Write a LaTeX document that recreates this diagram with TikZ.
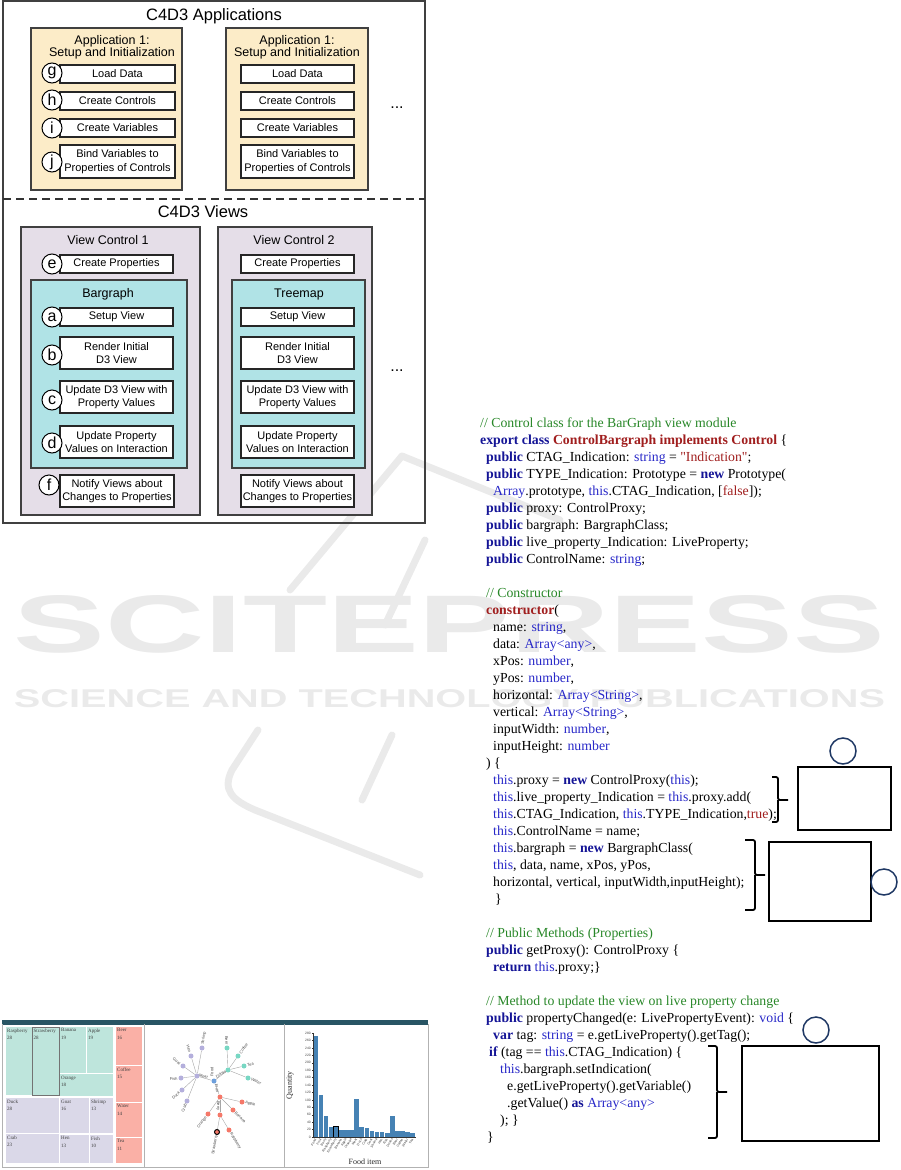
\documentclass[tikz,border=0pt]{standalone}
\usepackage{fontspec}
\setmainfont{Liberation Serif}
\newfontfamily\codef{Liberation Serif}
\newfontfamily\arialf{Liberation Sans}
\definecolor{appfill}{RGB}{252,236,200}
\definecolor{viewfill}{RGB}{229,222,232}
\definecolor{dthree}{RGB}{176,227,230}
\definecolor{cmtgreen}{RGB}{40,135,40}
\definecolor{kwblue}{RGB}{20,20,150}
\definecolor{tyblue}{RGB}{40,40,200}
\definecolor{dkred}{RGB}{160,30,30}
\definecolor{navyc}{RGB}{31,56,100}
\definecolor{tmgreen}{RGB}{190,229,220}
\definecolor{tmlav}{RGB}{218,216,232}
\definecolor{tmsalmon}{RGB}{250,176,166}
\definecolor{barblue}{RGB}{70,130,180}
\definecolor{topbar}{RGB}{40,85,100}
\definecolor{wmgrey}{RGB}{234,234,234}
\definecolor{tnblue}{RGB}{110,160,220}
\definecolor{tnlav}{RGB}{180,175,220}
\definecolor{tnmint}{RGB}{120,215,195}
\definecolor{tnsalmon}{RGB}{245,120,105}
\newcommand\CKw[1]{\textbf{\color{kwblue}#1}}
\newcommand\CTy[1]{{\color{tyblue}#1}}
\newcommand\CRd[1]{{\color{dkred}#1}}
\newcommand\CRb[1]{\textbf{\color{dkred}#1}}
\newcommand\CCm[1]{{\color{cmtgreen}#1}}
\newcommand\codeln[3]{\node[codeline] (code#1) at (#2,{427.5+17*(#1-1)}) {#3};}
\begin{document}
\begin{tikzpicture}[x=1pt,y=-1pt,
  outerbox/.style={draw=black!75, line width=1.5pt, inner sep=0},
  appbox/.style={draw=black!75, fill=appfill, line width=2pt, inner sep=0},
  viewbox/.style={draw=black!75, fill=viewfill, line width=2pt, inner sep=0},
  dbox/.style={draw=black!75, fill=dthree, line width=2pt, inner sep=0},
  stepbox/.style={draw=black!85, fill=white, line width=1.8pt, inner sep=0, align=center,
     font=\arialf\fontsize{11}{13.5}\selectfont},
  boxtitle/.style={align=center, inner sep=0, font=\arialf\fontsize{12.5}{12.5}\selectfont},
  bigtitle/.style={inner sep=0, font=\arialf\fontsize{16.5}{16.5}\selectfont},
  letter/.style={circle, draw=black, fill=white, line width=1pt, minimum size=20pt, inner sep=0,
     font=\arialf\fontsize{16}{16}\selectfont},
  dots/.style={anchor=base, inner sep=0, font=\arialf\fontsize{16}{16}\selectfont},
  codeline/.style={anchor=base west, inner sep=0, font=\codef\fontsize{13.8}{17}\selectfont},
  brace/.style={draw=black, line width=1.8pt, rounded corners=2pt},
  notebox/.style={draw=black, line width=1.3pt, inner sep=0},
  notecirc/.style={circle, draw=navyc, line width=1.5pt, minimum size=26pt, inner sep=0},
  tile/.style={anchor=north west, inner sep=0},
  tlab/.style={anchor=north west, inner sep=0, align=left, text=black!75, font=\fontsize{5}{7.5}\selectfont},
  tn/.style={circle, inner sep=0, minimum size=5pt},
  te/.style={draw=black!35, line width=0.4pt},
  tl/.style={inner sep=0.3pt, text=black!70, font=\arialf\fontsize{4}{4}\selectfont},
  wmline/.style={draw=wmgrey, line width=7pt, line cap=round, line join=round}
]
\useasboundingbox (0,0) rectangle (901,1170);

% ---------- watermark ----------
\draw[wmline] (402,456) -- (290,590);
\draw[wmline] (425,540) -- (385,625);
\draw[wmline] (258,730) -- (232,770) .. controls (222,790) and (232,800) .. (255,810) -- (420,875);
\draw[wmline] (392,735) -- (362,800);
\draw[wmline] (402,456) -- (560,520);
\node[text=wmgrey, inner sep=0] (wm1) at (449.5,624.5)
  {\resizebox{871pt}{57pt}{\arialf\bfseries SCITEPRESS}};
\node[text=wmgrey, inner sep=0] (wm2) at (449.5,699)
  {\resizebox{871pt}{18pt}{\arialf\bfseries SCIENCE AND TECHNOLOGY PUBLICATIONS}};

% ---------- C4D3 diagram ----------
\node[outerbox, minimum width=422, minimum height=522] (outer) at (214,262) {};
\coordinate (dl) at (3,199);
\coordinate (dr) at (425,199);
\draw[black!80, line width=1.8pt, dash pattern=on 8pt off 5pt] (dl) -- (dr);
\node[bigtitle] (tapps) at (214,16) {C4D3 Applications};
\node[bigtitle] (tviews) at (203,212) {C4D3 Views};

% applications
\node[appbox, minimum width=151, minimum height=162] (app1) at (106.5,109) {};
\node[appbox, minimum width=142, minimum height=162] (app2) at (297,109) {};
\node[boxtitle] (app1t) at (112,47.5) {Application 1:\\Setup and Initialization};
\node[boxtitle] (app2t) at (297,47.5) {Application 1:\\Setup and Initialization};
\node[stepbox, minimum width=115, minimum height=18] (ld1) at (117.5,74) {Load Data};
\node[stepbox, minimum width=115, minimum height=18] (cc1) at (117.5,101) {Create Controls};
\node[stepbox, minimum width=115, minimum height=18] (cv1) at (117.5,128) {Create Variables};
\node[stepbox, minimum width=115, minimum height=33] (bv1) at (117.5,161.5) {Bind Variables to\\Properties of Controls};
\node[stepbox, minimum width=113, minimum height=18] (ld2) at (297.5,74) {Load Data};
\node[stepbox, minimum width=113, minimum height=18] (cc2) at (297.5,101) {Create Controls};
\node[stepbox, minimum width=113, minimum height=18] (cv2) at (297.5,128) {Create Variables};
\node[stepbox, minimum width=113, minimum height=33] (bv2) at (297.5,161.5) {Bind Variables to\\Properties of Controls};
\node[letter] (lg) at (52,73) {g};
\node[letter] (lh) at (52,100) {h};
\node[letter] (li) at (52,128) {i};
\node[letter] (lj) at (52,162) {j};
\node[dots] (dots1) at (397,108) {...};

% views
\node[viewbox, minimum width=179, minimum height=288] (vc1) at (110.5,371) {};
\node[viewbox, minimum width=154, minimum height=288] (vc2) at (295,371) {};
\node[boxtitle] (vc1t) at (108,240) {View Control 1};
\node[boxtitle] (vc2t) at (294,240) {View Control 2};
\node[stepbox, minimum width=113, minimum height=18] (cp1) at (116.5,264) {Create Properties};
\node[stepbox, minimum width=113, minimum height=18] (cp2) at (297.5,264) {Create Properties};
\node[dbox, minimum width=156, minimum height=188] (bg) at (109,374) {};
\node[dbox, minimum width=133, minimum height=188] (tm) at (298.5,374) {};
\node[boxtitle] (bgt) at (108,294) {Bargraph};
\node[boxtitle] (tmt) at (299,294) {Treemap};
\node[stepbox, minimum width=113, minimum height=18] (sv1) at (116.5,317) {Setup View};
\node[stepbox, minimum width=113, minimum height=32] (ri1) at (116.5,353) {Render Initial\\D3 View};
\node[stepbox, minimum width=113, minimum height=32] (ud1) at (116.5,397) {Update D3 View with\\Property Values};
\node[stepbox, minimum width=113, minimum height=32] (up1) at (116.5,442) {Update Property\\Values on Interaction};
\node[stepbox, minimum width=114, minimum height=32] (nv1) at (117,491) {Notify Views about\\Changes to Properties};
\node[stepbox, minimum width=113, minimum height=18] (sv2) at (297.5,317) {Setup View};
\node[stepbox, minimum width=113, minimum height=32] (ri2) at (297.5,353) {Render Initial\\D3 View};
\node[stepbox, minimum width=113, minimum height=32] (ud2) at (297.5,397) {Update D3 View with\\Property Values};
\node[stepbox, minimum width=113, minimum height=32] (up2) at (297.5,442) {Update Property\\Values on Interaction};
\node[stepbox, minimum width=113, minimum height=32] (nv2) at (297.5,491) {Notify Views about\\Changes to Properties};
\node[letter] (le) at (52,264) {e};
\node[letter] (la) at (52,317) {a};
\node[letter] (lb) at (52,355) {b};
\node[letter] (lc) at (52,400) {c};
\node[letter] (ld) at (52,443) {d};
\node[letter] (lf) at (49,485) {f};
\node[dots] (dots2) at (397,371) {...};

% ---------- code ----------
\codeln{1}{480}{\CCm{// Control class for the BarGraph view module}}
\codeln{2}{480}{\CKw{export class} \CRb{ControlBargraph implements Control} \{}
\codeln{3}{486}{\CKw{public} CTAG\_Indication: \CTy{string} = \CRd{"Indication"};}
\codeln{4}{486}{\CKw{public} TYPE\_Indication: Prototype = \CKw{new} Prototype(}
\codeln{5}{493}{\CTy{Array}.prototype, \CTy{this}.CTAG\_Indication, [\CRd{false}]);}
\codeln{6}{486}{\CKw{public} proxy: ControlProxy;}
\codeln{7}{486}{\CKw{public} bargraph: BargraphClass;}
\codeln{8}{486}{\CKw{public} live\_property\_Indication: LiveProperty;}
\codeln{9}{486}{\CKw{public} ControlName: \CTy{string};}
\codeln{11}{486}{\CCm{// Constructor}}
\codeln{12}{486}{\CRb{constructor}(}
\codeln{13}{493}{name: \CTy{string},}
\codeln{14}{493}{data: \CTy{Array<any>},}
\codeln{15}{493}{xPos: \CTy{number},}
\codeln{16}{493}{yPos: \CTy{number},}
\codeln{17}{493}{horizontal: \CTy{Array<String>},}
\codeln{18}{493}{vertical: \CTy{Array<String>},}
\codeln{19}{493}{inputWidth: \CTy{number},}
\codeln{20}{493}{inputHeight: \CTy{number}}
\codeln{21}{486}{) \{}
\codeln{22}{493}{\CTy{this}.proxy = \CKw{new} ControlProxy(\CTy{this});}
\codeln{23}{493}{\CTy{this}.live\_property\_Indication = \CTy{this}.proxy.add(}
\codeln{24}{493}{\CTy{this}.CTAG\_Indication, \CTy{this}.TYPE\_Indication,\CRd{true});}
\codeln{25}{493}{\CTy{this}.ControlName = name;}
\codeln{26}{493}{\CTy{this}.bargraph = \CKw{new} BargraphClass(}
\codeln{27}{493}{\CTy{this}, data, name, xPos, yPos,}
\codeln{28}{493}{horizontal, vertical, inputWidth,inputHeight);}
\codeln{29}{495}{\}}
\codeln{31}{486}{\CCm{// Public Methods (Properties)}}
\codeln{32}{486}{\CKw{public} getProxy(): ControlProxy \{}
\codeln{33}{493}{\CKw{return} \CTy{this}.proxy;\}}
\codeln{35}{486}{\CCm{// Method to update the view on live property change}}
\codeln{36}{486}{\CKw{public} propertyChanged(e: LivePropertyEvent): \CTy{void} \{}
\codeln{37}{493}{\CKw{var} tag: \CTy{string} = e.getLiveProperty().getTag();}
\codeln{38}{489}{\CKw{if} (tag == \CTy{this}.CTAG\_Indication) \{}
\codeln{39}{500}{\CTy{this}.bargraph.setIndication(}
\codeln{40}{507}{e.getLiveProperty().getVariable()}
\codeln{41}{507}{.getValue() \CKw{as} \CTy{Array<any>}}
\codeln{42}{500}{); \}}
\codeln{43}{487}{\}}

% braces, boxes, circles
\coordinate (b1t) at (772,777); \coordinate (b1b) at (772,822); \coordinate (b1m) at (788,800);
\draw[brace] (b1t) -- (778,777) -- (778,800) -- (b1m);
\draw[brace] (b1b) -- (778,822) -- (778,800);
\node[notebox, minimum width=93, minimum height=63] (nb1) at (844.5,798.5) {};
\node[notecirc] (nc1) at (843,751) {};
\coordinate (b2t) at (745,840); \coordinate (b2b) at (745,910); \coordinate (b2m) at (765,875);
\draw[brace] (b2t) -- (755,840) -- (755,875) -- (b2m);
\draw[brace] (b2b) -- (755,910) -- (755,875);
\node[notebox, minimum width=102, minimum height=79] (nb2) at (820,881.5) {};
\node[notecirc] (nc2) at (884,882) {};
\coordinate (b3t) at (708,1046); \coordinate (b3b) at (708,1138); \coordinate (b3m) at (727,1092);
\draw[brace] (b3t) -- (717,1046) -- (717,1092) -- (b3m);
\draw[brace] (b3b) -- (717,1138) -- (717,1092);
\node[notebox, minimum width=137, minimum height=95] (nb3) at (810.5,1093.5) {};
\node[notecirc] (nc3) at (816,1030) {};

% ---------- screenshot ----------
\fill[topbar] (2,1020) rectangle (428,1024.5);
\draw[black!30, line width=0.6pt] (2,1024) -- (2,1167) -- (428,1167) -- (428,1024);
\draw[black!30, line width=0.6pt] (144,1024) -- (144,1167);
\draw[black!30, line width=0.6pt] (284,1024) -- (284,1167);
% treemap
\foreach \nm/\xa/\ya/\xb/\yb/\col/\val in {
  Raspberry/6/1027/31.5/1095/tmgreen/28,
  Strawberry/32.5/1027/59/1095/tmgreen/28,
  Banana/60/1027/86/1073/tmgreen/19,
  Apple/87/1027/113/1073/tmgreen/19,
  Orange/60/1074/113/1096/tmgreen/18,
  Beer/116/1027/142/1065/tmsalmon/16,
  Coffee/116/1066/142/1102/tmsalmon/15,
  Water/116/1103/142/1137/tmsalmon/14,
  Tea/116/1138/142/1163/tmsalmon/11,
  Duck/6/1098/59/1133/tmlav/28,
  Crab/6/1134/59/1163/tmlav/23,
  Goat/60/1098/89/1133/tmlav/16,
  Shrimp/90/1098/113/1133/tmlav/13,
  Hen/60/1135/89/1163/tmlav/13,
  Fish/90/1135/113/1163/tmlav/10} {
  \node[tile, fill=\col, minimum width=\xb-\xa, minimum height=\yb-\ya] (tile\nm) at (\xa,\ya) {};
  \node[tlab] (tlab\nm) at (\xa+1,\ya+1.5) {\nm\\\val};
}
\draw[black!55, line width=0.7pt] (tileStrawberry.north west) rectangle (tileStrawberry.south east);
% node-link tree
\node[tn, fill=tnblue] (nFood) at (214,1081) {};
\node[tn, fill=tnlav] (nMeat) at (197,1076) {};
\node[tn, fill=tnmint] (nDrinks) at (228,1070) {};
\node[tn, fill=tnsalmon] (nFruit) at (220,1097) {};
\node[tn, fill=tnsalmon] (nBerry) at (220,1115) {};
\foreach \nm/\x/\y in {Shrimp/202/1048, Hen/191/1056, Goat/183/1066, Fish/181/1078, Duck/182/1090, Crab/187/1101}
  {\node[tn, fill=tnlav] (n\nm) at (\x,\y) {};}
\foreach \nm/\x/\y in {Beer/227/1048, Coffee/238/1056, Tea/244/1066, Water/248/1078}
  {\node[tn, fill=tnmint] (n\nm) at (\x,\y) {};}
\foreach \nm/\x/\y in {Apple/242/1102, Banana/233/1110, Orange/208/1114, Raspberry/229/1130}
  {\node[tn, fill=tnsalmon] (n\nm) at (\x,\y) {};}
\node[tn, fill=tnsalmon, draw=black, line width=1pt] (nStrawberry) at (217,1132) {};
\foreach \a/\b in {Food/Meat, Food/Drinks, Food/Fruit, Meat/Shrimp, Meat/Hen, Meat/Goat, Meat/Fish, Meat/Duck, Meat/Crab,
  Drinks/Beer, Drinks/Coffee, Drinks/Tea, Drinks/Water, Fruit/Apple, Fruit/Banana, Fruit/Berry, Fruit/Orange,
  Berry/Strawberry, Berry/Raspberry}
  {\draw[te] (n\a) -- (n\b);}
\node[tl, anchor=west, rotate=80] (lShrimp) at (202.5,1045) {Shrimp};
\node[tl, anchor=east, rotate=-73] (lHen) at (190,1053) {Hen};
\node[tl, anchor=east, rotate=-36] (lGoat) at (180.6,1064.2) {Goat};
\node[tl, anchor=east, rotate=7] (lFish) at (178,1078.4) {Fish};
\node[tl, anchor=east, rotate=43] (lDuck) at (179.8,1092) {Duck};
\node[tl, anchor=east, rotate=68] (lCrab) at (185.9,1103.8) {Crab};
\node[tl, anchor=east, rotate=-87] (lBeer) at (226.9,1045) {Beer};
\node[tl, anchor=west, rotate=54] (lCoffee) at (239.8,1053.6) {Coffee};
\node[tl, anchor=west, rotate=14] (lTea) at (246.9,1065.3) {Tea};
\node[tl, anchor=west, rotate=-22] (lWater) at (250.8,1079.1) {Water};
\node[tl, anchor=west, rotate=-13] (lApple) at (244.9,1102.7) {Apple};
\node[tl, anchor=west, rotate=-45] (lBanana) at (235.1,1112.1) {Banana};
\node[tl, anchor=east, rotate=55] (lOrange) at (206.3,1116.5) {Orange};
\node[tl, anchor=east, rotate=80] (lStrawberry) at (216.5,1135) {Strawberry};
\node[tl, anchor=west, rotate=-59] (lRaspberry) at (230.5,1132.6) {Raspberry};
\node[tl, rotate=90] (lFood) at (212,1072) {Food};
\node[tl, rotate=-15] (lMeat) at (203.5,1076) {Meat};
\node[tl, rotate=30] (lDrinks) at (221,1074) {Drinks};
\node[tl, rotate=-80] (lFruit) at (217,1088) {Fruit};
\node[tl, rotate=-90] (lBerry) at (218,1106) {Berry};
% bar chart
\coordinate (ax0) at (313,1137);
\coordinate (axtop) at (313,1033);
\coordinate (axr) at (416,1137);
\foreach \v [count=\i] in {271,112,56,28,28,19,19,18,103,28,23,16,13,13,10,56,16,15,14,11}
  {\fill[barblue] ({313.5+5.1*(\i-1)},1137) rectangle ++(4.6,{-0.3714*\v});}
\draw[black, line width=0.9pt] ({313.5+5.1*4},1137) rectangle ++(4.6,{-0.3714*28});
\draw[black!80, line width=0.4pt] (axtop) -- (ax0) -- (axr);
\foreach \t in {0,20,...,280}
  {\draw[black!80, line width=0.3pt] (313,{1137-0.3714*\t}) -- ++(-1.5,0)
     node[anchor=east, inner sep=0.6pt, text=black!75, font=\arialf\fontsize{3.3}{3.3}\selectfont] {\t};}
\foreach \nm [count=\i] in {Food,Fruit,Berry,Raspberry,Strawberry,Banana,Apple,Orange,Meat,Duck,Crab,Goat,Shrimp,Hen,Fish,Drinks,Beer,Coffee,Water,Tea}
  {\node[anchor=east, rotate=60, inner sep=0.3pt, text=black!75, font=\arialf\fontsize{3.3}{3.3}\selectfont]
     at ({313.5+5.1*(\i-1)+2.3},1138.5) {\nm};}
\node[rotate=90, inner sep=0, font=\fontsize{8}{8}\selectfont, text=black!85] (qlab) at (290,1085) {Quantity};
\node[inner sep=0, font=\fontsize{8}{8}\selectfont, text=black!85] (flab) at (365,1162) {Food item};
\end{tikzpicture}
\end{document}
